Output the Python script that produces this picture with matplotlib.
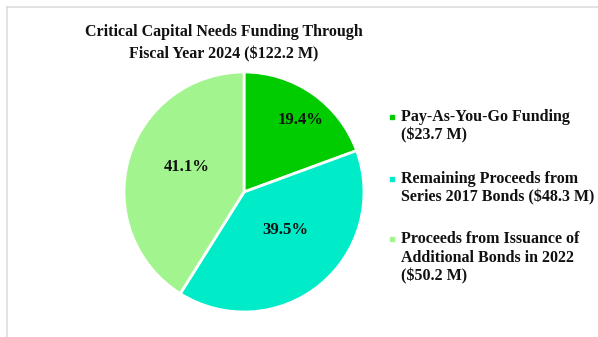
import matplotlib
matplotlib.use("Agg")
import matplotlib.pyplot as plt
import numpy as np
from matplotlib.patches import Rectangle
from matplotlib.lines import Line2D

title = "Critical Capital Needs Funding Through\nFiscal Year 2024 ($122.2 M)"
categories = ["Pay-As-You-Go Funding\n($23.7 M)",
              "Remaining Proceeds from\nSeries 2017 Bonds ($48.3 M)",
              "Proceeds from Issuance of\nAdditional Bonds in 2022\n($50.2 M)"]
values = [23.7, 48.3, 50.2]
colors = ["#00CC00", "#00ECC8", "#A2F58E"]
# label placement (fraction of radius, angle in degrees)
label_pos = [(0.76, 52), (0.47, -43), (0.52, 156)]

plt.rcParams['font.family'] = ['Liberation Serif', 'DejaVu Serif']
plt.rcParams['font.weight'] = 'bold'

W, H = 598, 337
fig = plt.figure(figsize=(W/100, H/100), dpi=100)
fig.patch.set_facecolor('white')

# frame lines
fig.add_artist(Line2D([7/W, 1], [1-7/H, 1-7/H], color='#DDDDDD', lw=1.2))
fig.add_artist(Line2D([7/W, 7/W], [0, 1-7/H], color='#DDDDDD', lw=1.2))

cx, cy, r = 244, 192, 120
ax = fig.add_axes([(cx-r)/W, 1-(cy+r)/H, 2*r/W, 2*r/H])
wedges, _ = ax.pie(values, colors=colors, startangle=90, counterclock=False,
                   wedgeprops=dict(edgecolor='white', linewidth=2))
ax.set_xlim(-1, 1); ax.set_ylim(-1, 1)
ax.set_aspect('auto')
total = sum(values)
for v, (rf, ang) in zip(values, label_pos):
    a = np.deg2rad(ang)
    ax.text(rf*np.cos(a), rf*np.sin(a), f"{v/total*100:.1f}%", ha='center', va='center',
            fontsize=12, fontweight='bold', color='#111111')

fig.text(224/W, 1-43/H, title, ha='center', va='center', fontsize=11.5,
         fontweight='bold', linespacing=1.55, color='#111111')

# legend
ys = [117, 179, 239]
for lab, col, y in zip(categories, colors, ys):
    fig.add_artist(Rectangle((390/W, 1-(y+2)/H), 4/W, 4/H, color=col, transform=fig.transFigure))
    fig.text(401/W, 1-(y-8)/H, lab, ha='left', va='top', fontsize=11.5,
             fontweight='bold', linespacing=1.22, color='#111111')

fig.savefig("out.png", dpi=100)
